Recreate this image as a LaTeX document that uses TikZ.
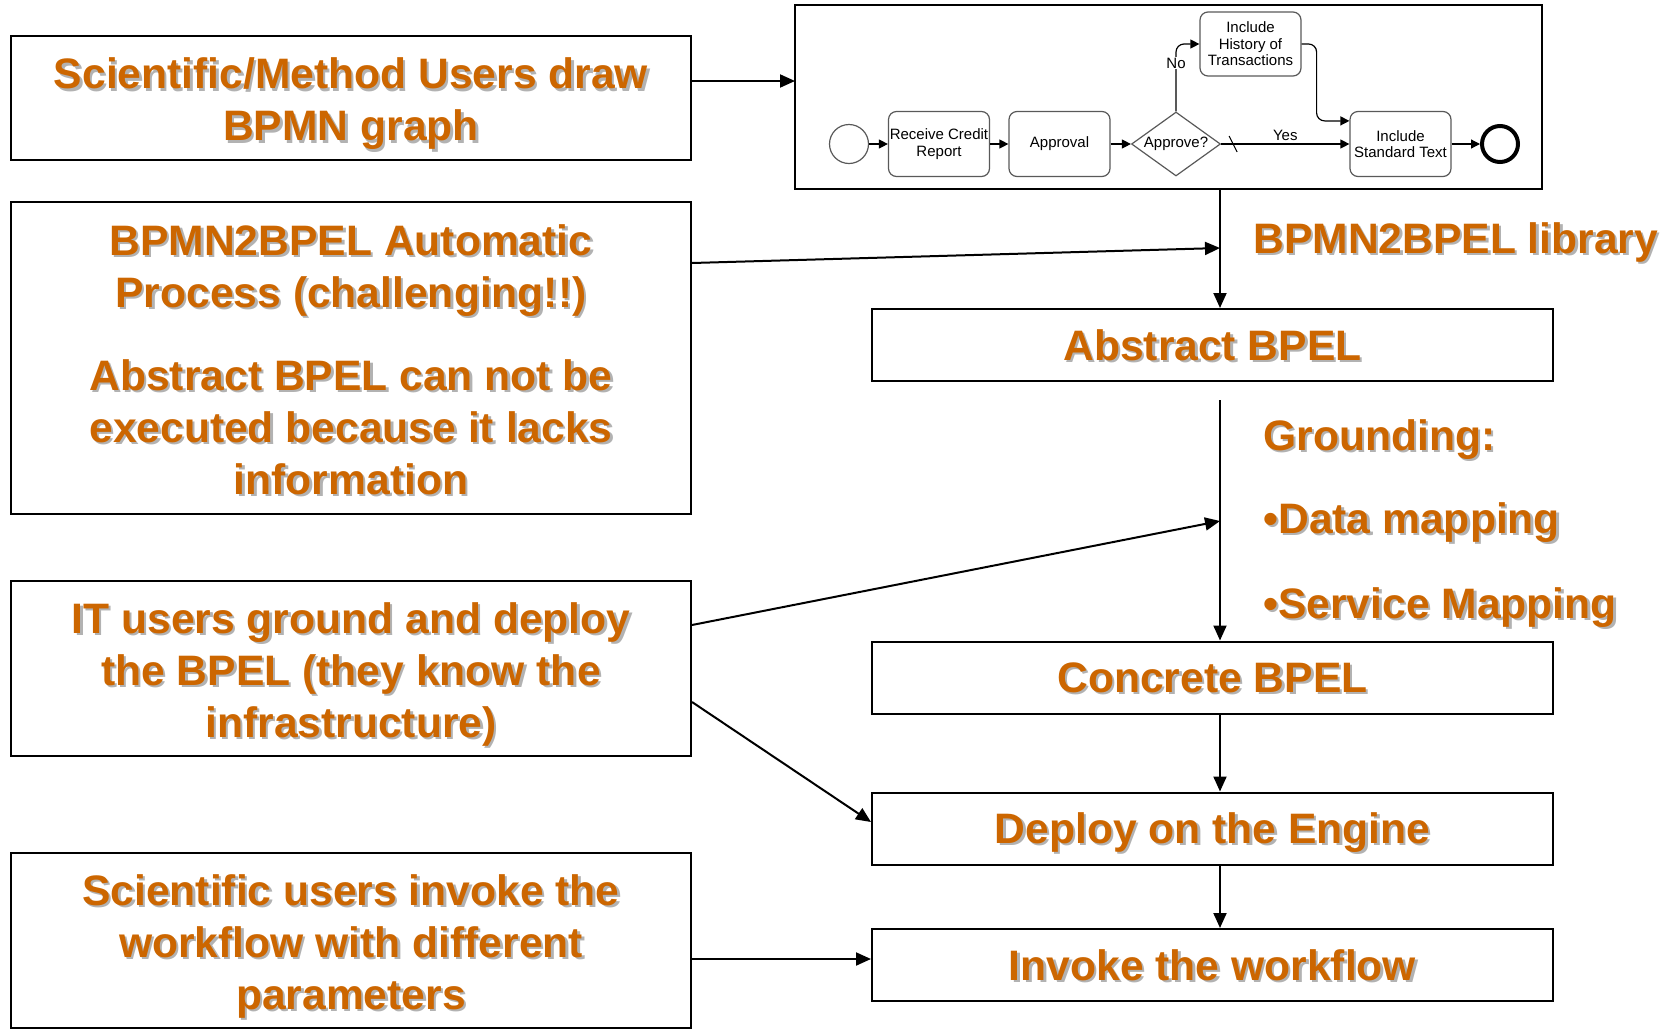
\documentclass[tikz,border=0pt]{standalone}
\usepackage{fontspec}
\setmainfont{Liberation Sans}
\usetikzlibrary{
  calc,shapes.geometric,positioning,
  arrows.meta
}
\definecolor{bpelorange}{RGB}{204,102,0}
\definecolor{shadowgray}{RGB}{178,178,178}
\newcommand\shd[1]{\rlap{\kern1.2pt\raisebox{-1.2pt}{\textcolor{shadowgray}{#1}}}#1}
\newcommand\topln{\rule{0pt}{22.8pt}}
\newcommand\botln{\rule[-6pt]{0pt}{6pt}}

\begin{document}
\begin{tikzpicture}[x=0.5pt,y=-0.5pt,
  big/.style={font=\fontsize{21.3}{26}\selectfont\bfseries,text=bpelorange},
  userbox/.style={big,draw,line width=1pt,minimum width=340pt,align=center,inner sep=0pt},
  stagebox/.style={big,draw,line width=1pt,minimum width=340.5pt,minimum height=36pt,
    text height=15pt,text depth=0pt,inner sep=0pt},
  note/.style={big,anchor=base west,inner sep=0pt},
  flow/.style={line width=1pt,-{Triangle[length=7.5pt,width=6.5pt]}},
  tiny/.style={font=\fontsize{7.5}{8.2}\selectfont},
  task/.style={tiny,draw=black!65,rounded corners=4pt,line width=0.6pt,minimum width=50.5pt,
    minimum height=32.5pt,align=center,inner sep=0pt},
  small/.style={line width=0.6pt,-{Triangle[length=4.5pt,width=4.5pt]}},
  lbl/.style={tiny,inner sep=0.5pt}
]
\useasboundingbox (0,0) rectangle (1672,1029);

\node[userbox,minimum height=62pt] (draw) at (351,98)
  {\topln\shd{Scientific/Method Users draw}\\\shd{BPMN graph}\botln};
\node[userbox,minimum height=156pt] (auto) at (351,358)
  {\topln\shd{BPMN2BPEL Automatic}\\\shd{Process (challenging!!)}\\[15.5pt]%
   \shd{Abstract BPEL can not be}\\\shd{executed because it lacks}\\\shd{information}\botln};
\node[userbox,minimum height=87.5pt] (ground) at (351,668.5)
  {\topln\shd{IT users ground and deploy}\\\shd{the BPEL (they know the}\\\shd{infrastructure)}\botln};
\node[userbox,minimum height=87.5pt] (invoke) at (351,940.5)
  {\topln\shd{Scientific users invoke the}\\\shd{workflow with different}\\\shd{parameters}\botln};

\node[draw,line width=1pt,minimum width=373.5pt,minimum height=92pt,inner sep=0pt] (bpmn) at (1168.5,97) {};

\node[stagebox] (abstract) at (1212.5,345) {\shd{Abstract BPEL}};
\node[stagebox] (concrete) at (1212.5,677.5) {\shd{Concrete BPEL}};
\node[stagebox] (deploy) at (1212.5,828.5) {\shd{Deploy on the Engine}};
\node[stagebox] (run) at (1212.5,965) {\shd{Invoke the workflow}};

\node[note] (library) at (1253,253) {\shd{BPMN2BPEL library}};
\node[note] (grounding) at (1263,450) {\shd{Grounding:}};
\node[note] (datamap) at (1263,533) {\shd{•Data mapping}};
\node[note] (servmap) at (1263,618) {\shd{•Service Mapping}};

\coordinate (in) at (795,81);
\coordinate (lib) at (1220,248);
\coordinate (map) at (1220,521);

\draw[flow] (draw.east |- in) -- (in);
\draw[flow] (bpmn.south -| lib) -- (abstract.north -| lib);
\draw[flow] ([yshift=47.5pt]auto.east) -- (lib);
\draw[flow] ([yshift=-9pt]abstract.south -| lib) -- (concrete.north -| lib);
\draw[flow] ([yshift=21.75pt]ground.east) -- (map);
\draw[flow] ([yshift=-16.75pt]ground.east) -- ([yshift=3.25pt]deploy.west);
\draw[flow] (concrete.south -| lib) -- (deploy.north -| lib);
\draw[flow] (deploy.south -| lib) -- (run.north -| lib);
\draw[flow] (invoke.east |- 0,959) -- (run.west |- 0,959);

\node[circle,draw=black!65,line width=0.6pt,minimum size=19.5pt,inner sep=0pt] (start) at (849,144) {};
\node[task] (receive) at (939,144) {Receive Credit\\Report};
\node[task] (approval) at (1059.5,144) {Approval};
\node[diamond,draw=black!65,line width=0.6pt,minimum width=44.5pt,minimum height=32pt,
  inner sep=0pt,label={[lbl]center:Approve?}] (gate) at (1176,144) {};
\node[task,minimum height=32pt] (history) at (1250.5,44) {Include\\History of\\Transactions};
\node[task] (standard) at (1400.5,144) {Include\\Standard Text};
\node[circle,draw,line width=2pt,minimum size=18pt,inner sep=0pt] (stop) at (1500,144) {};

\draw[small] (start) -- (receive);
\draw[small] (receive) -- (approval);
\draw[small] (approval) -- (gate);
\draw[small] (gate) -- node[lbl,above=1pt]{Yes} (standard);
\draw[line width=0.5pt] ([shift={(4pt,4pt)}]gate.east) -- ++(4pt,-8pt);
\draw[small,rounded corners=4pt] (gate.north) |- (history.west);
\node[lbl,fill=white] (no) at (gate.north |- 0,63) {No};
\draw[small,rounded corners=4pt] (history.east) -- ++(7.5pt,0) |- ([yshift=-5pt]standard.north west);
\draw[small] (standard) -- (stop);
\end{tikzpicture}
\end{document}
